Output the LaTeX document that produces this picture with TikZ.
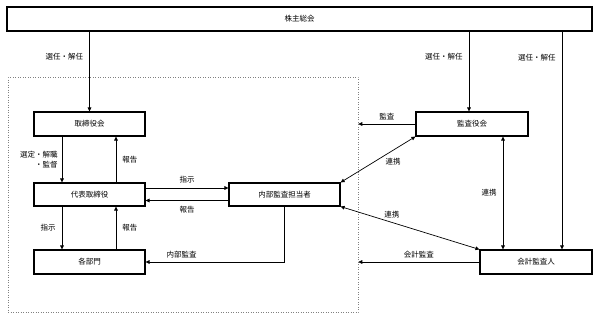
\documentclass[tikz,border=0pt]{standalone}
\usepackage{fontspec}
\setmainfont{Noto Sans CJK JP}
\usetikzlibrary{positioning,arrows.meta}

\begin{document}
\begin{tikzpicture}[x=1pt,y=-1pt,
  box/.style={rectangle,draw=black,line width=1.1pt,minimum width=111pt,minimum height=24pt,inner sep=0pt,font=\fontsize{7.5}{9}\selectfont},
  arr/.style={-{Triangle[length=4pt,width=3.6pt]},line width=0.7pt},
  biarr/.style={{Triangle[length=4pt,width=3.6pt]}-{Triangle[length=4pt,width=3.6pt]},line width=0.7pt},
  lbl/.style={font=\fontsize{7.5}{9}\selectfont,inner sep=1pt}]
\useasboundingbox (0,0) rectangle (600,319);
% Company frame (dotted)
\node[draw=gray,dotted,line width=0.5pt,minimum width=350pt,minimum height=235pt,inner sep=0pt] (grp) at (183,194.5) {};
% Boxes
\node[box,minimum width=585pt] (soukai) at (299.5,19) {株主総会};
\node[box] (torikai) at (89.5,124) {取締役会};
\node[box,minimum height=23pt] (daihyo) at (89.5,194.5) {代表取締役};
\node[box] (bumon) at (89.5,262) {各部門};
\node[box,minimum height=23pt] (naibu) at (284.5,194.5) {内部監査担当者};
\node[box,minimum width=112pt] (kansa) at (472,124) {監査役会};
\node[box,minimum width=112pt] (kaikei) at (536,262) {会計監査人};
% Appointment by the general meeting
\foreach \t/\xx/\p in {torikai/89.5/0.32, kansa/469/0.32, kaikei/562/0.12} {
  \coordinate (c) at (\xx,0);
  \draw[arr] (soukai.south -| c) -- node[lbl,left=5pt,pos=\p] {選任・解任} (\t.north -| c);
}
% Left column
\draw[arr] ([xshift=-27.5pt]torikai.south) -- node[lbl,left=3pt,align=right,font=\fontsize{7.5}{10}\selectfont] {選定・解職\\・監督} ([xshift=-27.5pt]daihyo.north);
\draw[arr] ([xshift=26.5pt]daihyo.north) -- node[lbl,right=5pt] {報告} ([xshift=26.5pt]torikai.south);
\draw[arr] ([xshift=-27.5pt]daihyo.south) -- node[lbl,left=5pt] {指示} ([xshift=-27.5pt]bumon.north);
\draw[arr] ([xshift=26.5pt]bumon.north) -- node[lbl,right=5pt] {報告} ([xshift=26.5pt]daihyo.south);
% Internal audit
\draw[arr] ([yshift=6.5pt]daihyo.east) -- node[lbl,above=4pt] {指示} ([yshift=6.5pt]naibu.west);
\draw[arr] ([yshift=-6pt]naibu.west) -- node[lbl,below=4pt] {報告} ([yshift=-6pt]daihyo.east);
\draw[arr] (naibu.south) |- node[lbl,above=3pt,pos=0.87] {内部監査} (bumon.east);
% Auditors
\draw[arr] (kansa.west) -- node[lbl,above=3pt] {監査} (kansa.west -| grp.east);
\draw[biarr] (kansa.south west) -- node[lbl,right=10pt,pos=0.55] {連携} (naibu.north east);
\draw[biarr] (naibu.south east) -- node[lbl,above=3pt,pos=0.37] {連携} (kaikei.north west);
\coordinate (kv) at ([xshift=31pt]kansa.south);
\draw[biarr] (kv) -- node[lbl,left=5pt] {連携} (kv |- kaikei.north);
\draw[arr] (kaikei.west) -- node[lbl,above=3pt] {会計監査} (kaikei.west -| grp.east);
\end{tikzpicture}
\end{document}
